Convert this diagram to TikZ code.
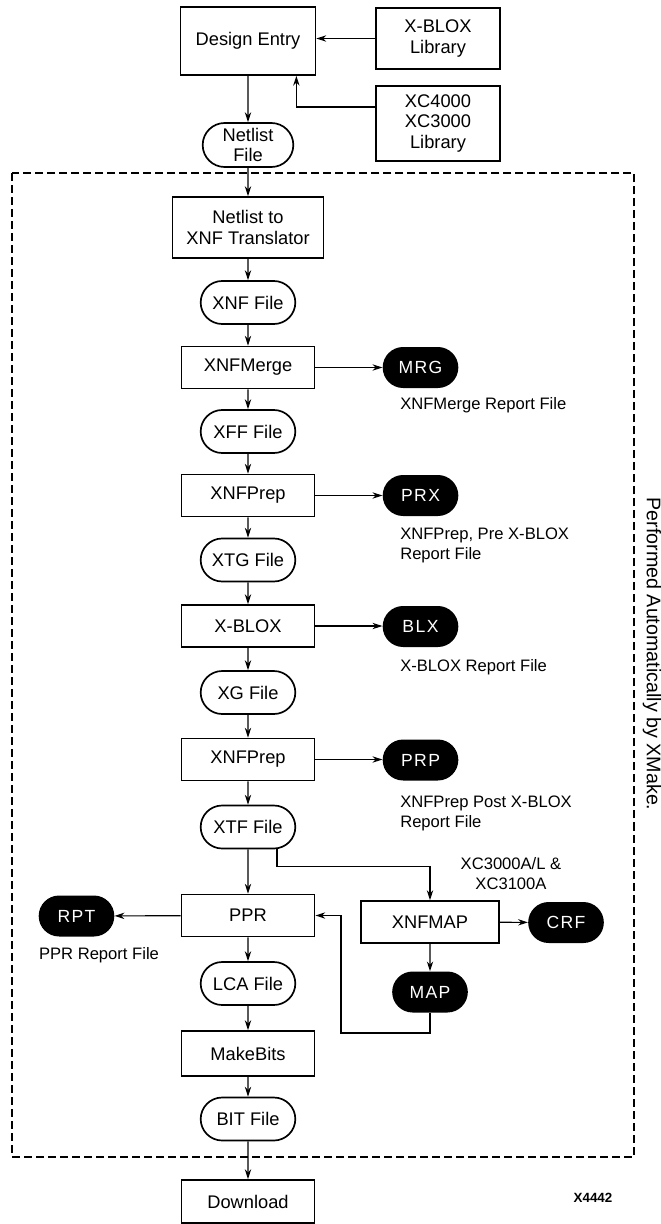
\documentclass[tikz,border=0pt]{standalone}
\usepackage{fontspec}
\setmainfont{Liberation Sans}
\newfontfamily\rptfont[LetterSpace=8]{Liberation Sans}
\usetikzlibrary{positioning, arrows.meta, shapes.misc}

\begin{document}
\begin{tikzpicture}[x=0.025cm, y=-0.025cm,
    procbox/.style={rectangle, draw, line width=1.2pt, minimum width=3.33cm, minimum height=1.05cm, align=center, font=\fontsize{13}{14.5}\selectfont},
    filebox/.style={rounded rectangle, draw, line width=1.2pt, minimum width=2.6cm, minimum height=1.075cm, align=center, font=\fontsize{13}{14.5}\selectfont},
    rptbox/.style={rounded rectangle, fill=black, text=white, minimum width=2.125cm, minimum height=1.025cm, font=\rptfont\fontsize{12.5}{14.5}\selectfont},
    note/.style={align=left, inner sep=0pt, font=\fontsize{11.8}{14.2}\selectfont},
    conn/.style={-{Stealth[length=7pt, width=4.5pt]}, line width=0.8pt}
]
    \useasboundingbox (0,0) rectangle (661,1224);

    % entry and libraries
    \node[procbox, minimum width=3.375cm, minimum height=1.7cm] (entry) at (248,41) {Design Entry};
    \node[procbox, minimum width=3.1cm, minimum height=1.525cm] (xblib) at (438,38.5) {X-BLOX\\Library};
    \node[procbox, minimum width=3.1cm, minimum height=1.875cm] (xclib) at (438,123.5) {XC4000\\XC3000\\Library};
    \node[filebox, minimum width=2.5cm, minimum height=1.1cm] (netlist) at (248,145) {Netlist\\File};

    % XMake flow
    \node[procbox, minimum width=3.775cm, minimum height=1.525cm] (trans) at (248,227.5) {Netlist to\\XNF Translator};
    \node[filebox] (xnf) at (248,302.5) {XNF File};
    \node[procbox] (merge) at (248,367.5) {XNFMerge};
    \node[filebox] (xff) at (248,431.5) {XFF File};
    \node[procbox] (prepa) at (248,495.5) {XNFPrep};
    \node[filebox] (xtg) at (248,560) {XTG File};
    \node[procbox] (xblox) at (248,626) {X-BLOX};
    \node[filebox] (xg) at (248,692.5) {XG File};
    \node[procbox] (prepb) at (248,759.5) {XNFPrep};
    \node[filebox] (xtf) at (248,827) {XTF File};
    \node[procbox] (ppr) at (248,915.5) {PPR};
    \node[filebox] (lca) at (248,983.5) {LCA File};
    \node[procbox, minimum height=1.125cm] (bits) at (248,1053.5) {MakeBits};
    \node[filebox] (bit) at (248,1119) {BIT File};
    \node[procbox, minimum height=1.075cm] (down) at (248,1201.5) {Download};

    % report files
    \node[rptbox] (mrg) at (420.5,367.5) {MRG};
    \node[rptbox] (prx) at (420.5,495.5) {PRX};
    \node[rptbox] (blx) at (420.5,626.5) {BLX};
    \node[rptbox] (prp) at (420.5,760) {PRP};
    \node[procbox, minimum width=3.45cm] (xnfmap) at (430,922) {XNFMAP};
    \node[rptbox] (crf) at (566,922.5) {CRF};
    \node[rptbox] (map) at (430,992) {MAP};
    \node[rptbox] (rpt) at (76.5,916) {RPT};

    \node[note, anchor=west] (mrgnote) at (400,405) {XNFMerge Report File};
    \node[note, anchor=west] (prxnote) at (400,545) {XNFPrep, Pre X-BLOX\\Report File};
    \node[note, anchor=west] (blxnote) at (400,667) {X-BLOX Report File};
    \node[note, anchor=west] (prpnote) at (400,813) {XNFPrep Post X-BLOX\\Report File};
    \node[note, align=center] (famnote) at (511,874) {XC3000A/L \&\\XC3100A};
    \node[note] (pprnote) at (99,955) {PPR Report File};
    \node[note, rotate=-90, font=\fontsize{14}{16}\selectfont] (auto) at (652,654) {Performed Automatically by XMake.};
    \node[font=\bfseries\fontsize{9.5}{11}\selectfont] (fig) at (593,1198) {X4442};

    \draw[dash pattern=on 0.2cm off 0.1cm, line width=1.4pt] (12,173) rectangle (634,1157);

    \path (xclib.west) ++(0,-16.5) coordinate (xcout);
    \path (entry.south east) ++(-20,0) coordinate (entryin);
    \coordinate (fbx) at (341,1033);

    \draw[conn] (xblib.west) -- (xblib.west -| entry.east);
    \draw[conn] (xcout) -| (entryin);
    \draw[conn] (entry) -- (netlist);
    \draw[conn] (netlist) -- (trans);
    \draw[conn] (trans) -- (xnf);
    \draw[conn] (xnf) -- (merge);
    \draw[conn] (merge) -- (xff);
    \draw[conn] (xff) -- (prepa);
    \draw[conn] (prepa) -- (xtg);
    \draw[conn] (xtg) -- (xblox);
    \draw[conn] (xblox) -- (xg);
    \draw[conn] (xg) -- (prepb);
    \draw[conn] (prepb) -- (xtf);
    \draw[conn] (xtf) -- (ppr);
    \draw[conn] (ppr) -- (lca);
    \draw[conn] (lca) -- (bits);
    \draw[conn] (bits) -- (bit);
    \draw[conn] (bit) -- (down);

    \draw[conn] (merge.east) -- (merge.east -| mrg.west);
    \draw[conn] (prepa.east) -- (prepa.east -| prx.west);
    \draw[conn] (xblox.east) -- (xblox.east -| blx.west);
    \draw[conn] (prepb.east) -- (prepb.east -| prp.west);
    \draw[conn] ([xshift=0.725cm]xtf.south) -- ++(0,17) -| (xnfmap.north);
    \draw[conn] (xnfmap) -- (crf);
    \draw[conn] (xnfmap) -- (map);
    \draw[conn] (map.south) |- (fbx) |- (ppr.east);
    \draw[conn] (ppr) -- (rpt);

\end{tikzpicture}
\end{document}
